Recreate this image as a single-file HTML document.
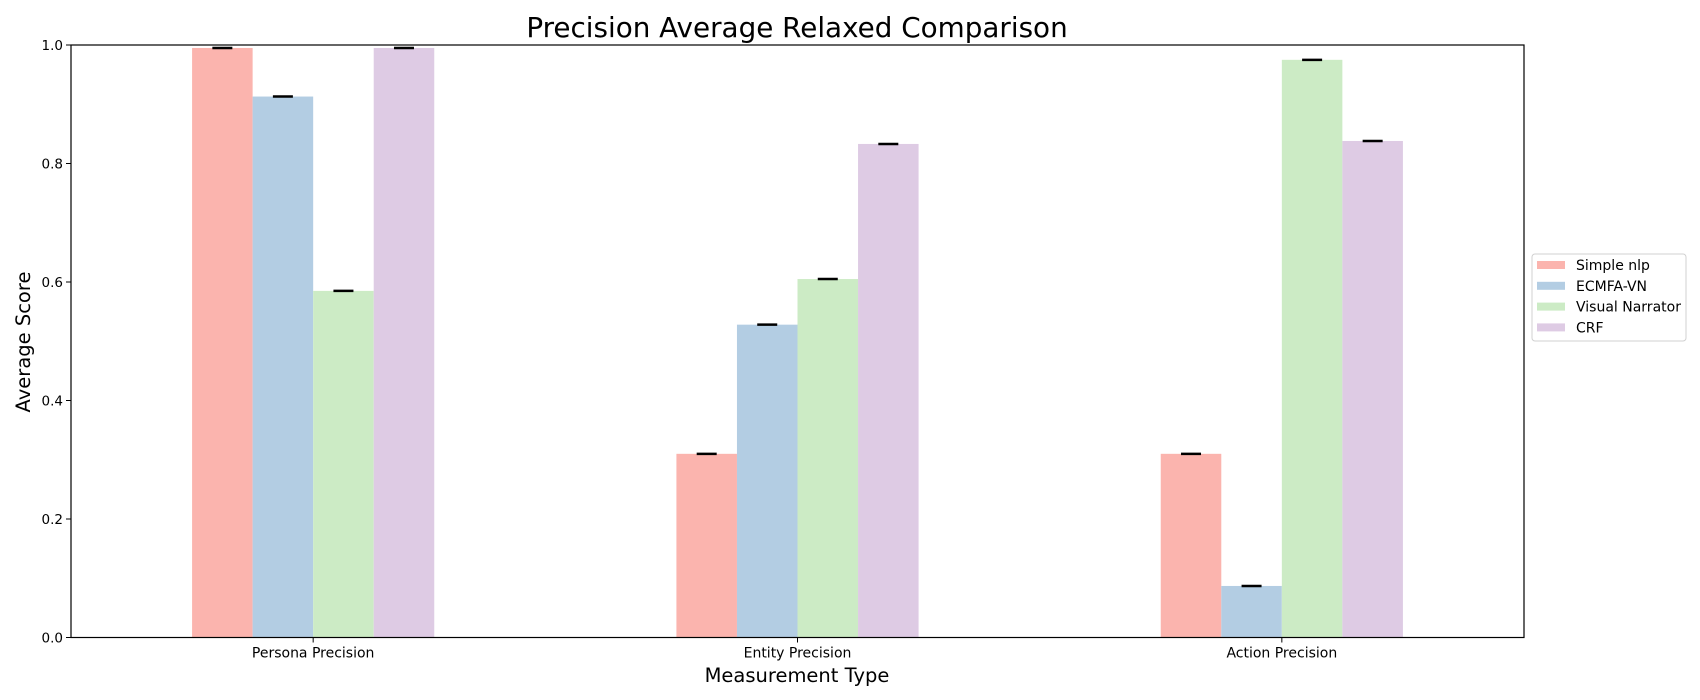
<!DOCTYPE html>
<html><head><meta charset="utf-8"><style>
body{margin:0;background:#fff;}
svg{display:block;font-family:"DejaVu Sans","Liberation Sans",sans-serif;}
</style></head><body>
<svg id="chart" width="1700" height="700">
<text x="797" y="37" font-size="27.8" text-anchor="middle">Precision Average Relaxed Comparison</text>
<g id="plot"></g>
<text x="797" y="682" font-size="19.5" text-anchor="middle">Measurement Type</text>
<text transform="translate(30,342) rotate(-90)" font-size="19.5" text-anchor="middle">Average Score</text>
</svg>
<script>
const categories = ["Persona Precision","Entity Precision","Action Precision"];
const seriesNames = ["Simple nlp","ECMFA-VN","Visual Narrator","CRF"];
const simpleNlp = [0.995,0.31,0.31];
const ecmfaVn = [0.913,0.528,0.087];
const visualNarrator = [0.585,0.605,0.975];
const crf = [0.995,0.833,0.838];
const yTicks = [0,0.2,0.4,0.6,0.8,1.0];
const yTickLabels = ["0.0","0.2","0.4","0.6","0.8","1.0"];
const colors = ["#fbb4ae","#b3cde3","#ccebc5","#decbe4"];
const series = [simpleNlp,ecmfaVn,visualNarrator,crf];

const L=71,R=1524,T=45,B=637.5;
const NS="http://www.w3.org/2000/svg";
const plot=document.getElementById('plot');
const unit=(R-L)/categories.length;
const xs=i=>L+unit*(i+0.5);
const ys=v=>B-(B-T)*v;
const bw=unit*0.125;
function mk(t,a,p){const e=document.createElementNS(NS,t);for(const k in a)e.setAttribute(k,a[k]);(p||plot).appendChild(e);return e;}

series.forEach((vals,s)=>{
  vals.forEach((v,i)=>{
    const cx=xs(i)+(s-1.5)*bw;
    const r=mk('rect',{x:cx-bw/2,y:ys(v),width:bw,height:B-ys(v),fill:colors[s]});
    
    
    const c=mk('line',{x1:cx-10,x2:cx+10,y1:ys(v),y2:ys(v),stroke:'#000','stroke-width':2.5});
    
    
  });
});
const frame=mk('rect',{x:L,y:T,width:R-L,height:B-T,fill:'none',stroke:'#000','stroke-width':1.2});


yTicks.forEach((t,i)=>{
  mk('line',{x1:L-5,x2:L,y1:ys(t),y2:ys(t),stroke:'#000'});
  const tx=mk('text',{x:L-8,y:ys(t)+5,'font-size':13.5,'text-anchor':'end'});
  tx.textContent=yTickLabels[i];
  
  
});
categories.forEach((c,i)=>{
  mk('line',{x1:xs(i),x2:xs(i),y1:B,y2:B+5,stroke:'#000'});
  const tx=mk('text',{x:xs(i),y:B+20,'font-size':14,'text-anchor':'middle'});
  tx.textContent=c;
  
  
});
// legend
const lg=mk('g',{});


mk('rect',{x:1532,y:254,width:154,height:87,rx:3,fill:'#fff',stroke:'#d0d0d0'},lg);
seriesNames.forEach((n,i)=>{
  const y=265+i*20.8;
  mk('rect',{x:1537,y:y-4,width:28,height:8,fill:colors[i]},lg);
  const tx=mk('text',{x:1576,y:y+5,'font-size':14},lg);
  tx.textContent=n;
  
  
});
</script>
</body></html>
